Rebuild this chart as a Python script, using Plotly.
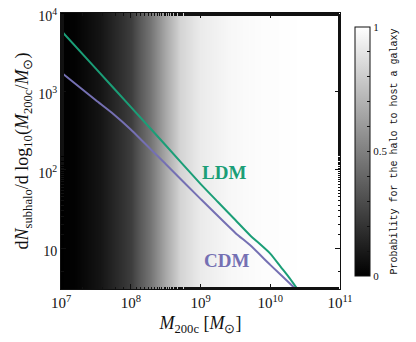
import plotly.graph_objects as go

# --- data ---
prob_logM = [7.0, 7.2, 7.56, 7.85, 8.0, 8.13, 8.28, 8.49, 8.71, 8.99, 9.42, 9.85, 10.5, 11.0]
prob_val = [0.0, 0.01, 0.08, 0.18, 0.24, 0.35, 0.45, 0.65, 0.83, 0.92, 0.97, 0.99, 1.0, 1.0]

ldm_logM = [7.0, 7.5, 8.0, 8.5, 9.0, 9.25, 9.5, 9.71, 10.0, 10.15, 10.28, 10.40]
ldm_N = [6000, 1950, 635, 205, 66, 38.7, 22.8, 14.6, 8.5, 5.75, 4.1, 2.9]

cdm_logM = [7.0, 7.5, 7.75, 8.0, 8.5, 9.0, 9.5, 9.71, 10.0, 10.33, 10.38]
cdm_N = [1750, 770, 515, 327, 118, 42.4, 15.6, 10.9, 6.1, 3.2, 2.9]

x_tickvals = [1e7, 1e8, 1e9, 1e10, 1e11]
x_ticktext = ["10<sup>7</sup>", "10<sup>8</sup>", "10<sup>9</sup>", "10<sup>10</sup>", "10<sup>11</sup>"]
y_tickvals = [10, 100, 1000, 10000]
y_ticktext = ["10", "10<sup>2</sup>", "10<sup>3</sup>", "10<sup>4</sup>"]
cb_tickvals = [0, 0.1, 0.2, 0.3, 0.4, 0.5, 0.6, 0.7, 0.8, 0.9, 1.0]
cb_ticktext = ["0", "", "", "", "", "0.5", "", "", "", "", "1"]

GREEN = "#1b9e77"
PURPLE = "#7570b3"
FONT = "Liberation Serif"
INK = "#111"

fig = go.Figure()

prob_M = [10 ** v for v in prob_logM]
fig.add_trace(go.Heatmap(
    x=prob_M, y=[1, 1e5], z=[prob_val, prob_val],
    zmin=0, zmax=1, zsmooth="best",
    colorscale=[[0, "black"], [1, "white"]],
    hoverinfo="skip",
    colorbar=dict(
        x=1.054, xanchor="left", xpad=0, ypad=0,
        y=0.498, yanchor="middle", len=0.902, lenmode="fraction",
        thickness=15, outlinewidth=1, outlinecolor=INK,
        tickvals=cb_tickvals, ticktext=cb_ticktext,
        ticks="inside", ticklen=3, tickcolor=INK,
        tickfont=dict(family=FONT, size=11, color=INK),
        title=dict(text="Probability for the halo to host a galaxy", side="right",
                   font=dict(family="Liberation Mono", size=10, color=INK)),
    ),
))

fig.add_trace(go.Scatter(x=[10 ** v for v in cdm_logM], y=cdm_N, mode="lines",
                         line=dict(color=PURPLE, width=2, shape="spline", smoothing=0.5),
                         showlegend=False))
fig.add_trace(go.Scatter(x=[10 ** v for v in ldm_logM], y=ldm_N, mode="lines",
                         line=dict(color=GREEN, width=2, shape="spline", smoothing=0.5),
                         showlegend=False))

fig.add_annotation(x=9.344, y=1.963, xref="x", yref="y", text="<b>LDM</b>", showarrow=False,
                   font=dict(family=FONT, size=19, color=GREEN))
fig.add_annotation(x=9.366, y=0.84, xref="x", yref="y", text="<b>CDM</b>", showarrow=False,
                   font=dict(family=FONT, size=19, color=PURPLE))

axis_common = dict(
    showline=True, linecolor=INK, linewidth=1, mirror="allticks",
    ticks="inside", ticklen=5, tickcolor=INK, showgrid=False, zeroline=False,
    automargin=False, ticklabeloverflow="allow",
    minor=dict(ticks="inside", ticklen=2.5, tickcolor=INK, showgrid=False),
)

fig.update_xaxes(type="log", range=[7, 11], tickvals=x_tickvals, ticktext=x_ticktext,
                 tickfont=dict(family=FONT, size=15, color=INK),
                 title=dict(text="<i>M</i><sub>200c</sub> [<i>M</i><sub>⊙</sub>]",
                            font=dict(family=FONT, size=18, color=INK), standoff=6),
                 **axis_common)
fig.update_yaxes(type="log", range=[0.477, 4.0005], tickvals=y_tickvals, ticktext=y_ticktext,
                 tickfont=dict(family=FONT, size=14, color=INK), ticklabelshift=3,
                 title=dict(text="d<i>N</i><sub>subhalo</sub>/d log<sub>10</sub>(<i>M</i><sub>200c</sub>/<i>M</i><sub>⊙</sub>)",
                            font=dict(family=FONT, size=18, color=INK), standoff=4),
                 **axis_common)

# page body has an 8px default margin, so the figure is offset by (8, 8)
fig.update_layout(
    width=416, height=342,
    margin=dict(l=53, r=84, t=5, b=61, autoexpand=False),
    paper_bgcolor="white", plot_bgcolor="white",
    showlegend=False,
)

fig.write_html("out.html")
